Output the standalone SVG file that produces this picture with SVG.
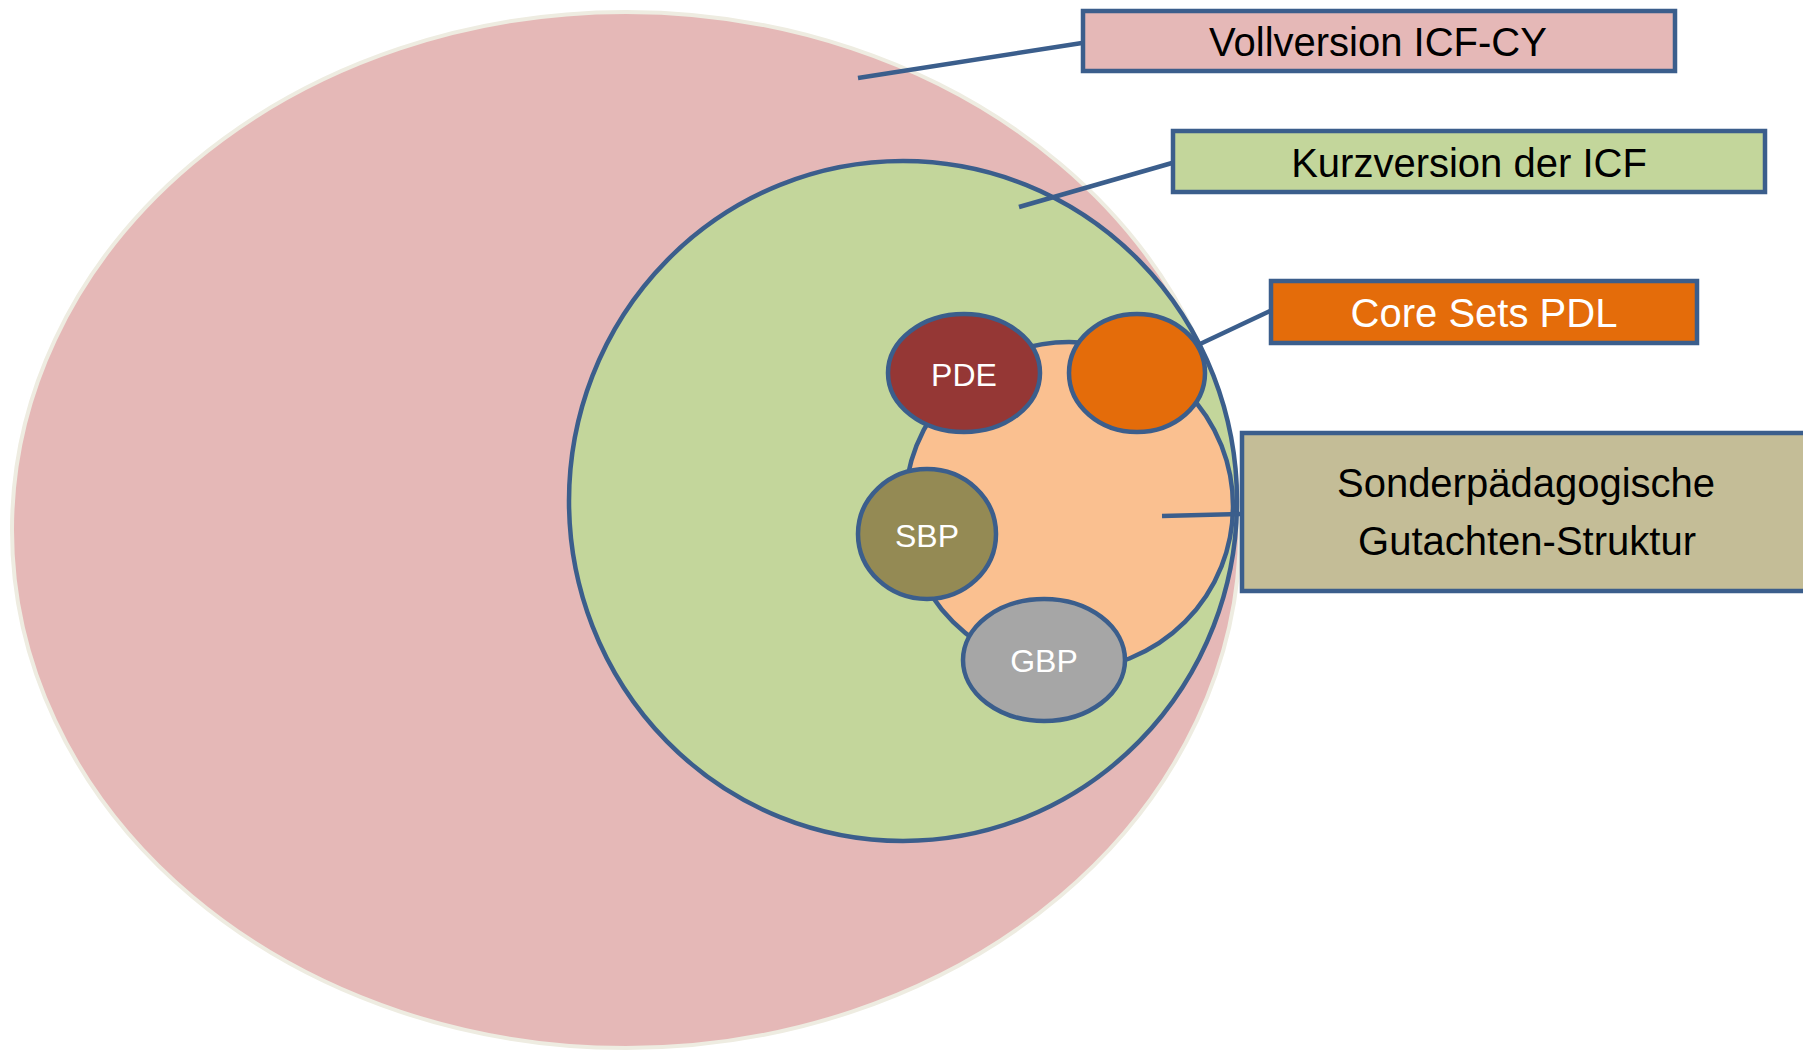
<svg xmlns="http://www.w3.org/2000/svg" width="1803" height="1050" viewBox="0 0 1803 1050">
<style>
.out{stroke:#3B5E8C;stroke-width:4.5}
.box{stroke:#3B5E8C;stroke-width:4.5}
.lbl{font-family:"Liberation Sans",Arial,sans-serif;font-size:40px;text-anchor:middle;fill:#000}
.sm{font-family:"Liberation Sans",Arial,sans-serif;font-size:32px;text-anchor:middle;fill:#fff}
.con{stroke:#3B5E8C;stroke-width:4.5;fill:none}
</style>
<rect width="1803" height="1050" fill="#fff"/>
<g id="vollversion-shape"><ellipse cx="626" cy="530" rx="614" ry="518" fill="#E5B8B7" stroke="#EEECE1" stroke-width="4"/></g>
<g id="kurzversion-shape"><ellipse cx="903" cy="501" rx="334" ry="340" fill="#C3D69B" class="out"/></g>
<g id="gutachten-shape"><circle cx="1069" cy="506" r="164" fill="#FAC090" class="out"/></g>
<g id="pde"><ellipse cx="964" cy="373" rx="76" ry="59" fill="#953735" class="out"/><text class="sm" x="964" y="386">PDE</text></g>
<g id="pdl"><ellipse cx="1137" cy="373" rx="68" ry="59" fill="#E46C0A" class="out"/></g>
<g id="sbp"><ellipse cx="927" cy="534" rx="69" ry="65" fill="#948A54" class="out"/><text class="sm" x="927" y="547">SBP</text></g>
<g id="gbp"><ellipse cx="1044" cy="660" rx="81" ry="61" fill="#A6A6A6" class="out"/><text class="sm" x="1044" y="672">GBP</text></g>
<g id="connectors">
<line class="con" x1="858" y1="78" x2="1082" y2="43"/>
<line class="con" x1="1019" y1="207" x2="1172" y2="163"/>
<line class="con" x1="1200" y1="344" x2="1270" y2="311"/>
<line class="con" x1="1162" y1="516" x2="1240" y2="514"/>
</g>
<g id="box-vollversion"><rect x="1083" y="11" width="592" height="60" fill="#E5B8B7" class="box"/><text class="lbl" x="1378" y="56">Vollversion ICF-CY</text></g>
<g id="box-kurzversion"><rect x="1173" y="131" width="592" height="61" fill="#C3D69B" class="box"/><text class="lbl" x="1469" y="177">Kurzversion der ICF</text></g>
<g id="box-coresets"><rect x="1271" y="281" width="426" height="62" fill="#E46C0A" class="box"/><text class="lbl" x="1484" y="327" style="fill:#fff">Core Sets PDL</text></g>
<g id="box-gutachten"><rect x="1242" y="433" width="580" height="158" fill="#C4BD97" class="box"/><text class="lbl" x="1526" y="497">Sonderpädagogische</text><text class="lbl" x="1527" y="555">Gutachten-Struktur</text></g>
</svg>
